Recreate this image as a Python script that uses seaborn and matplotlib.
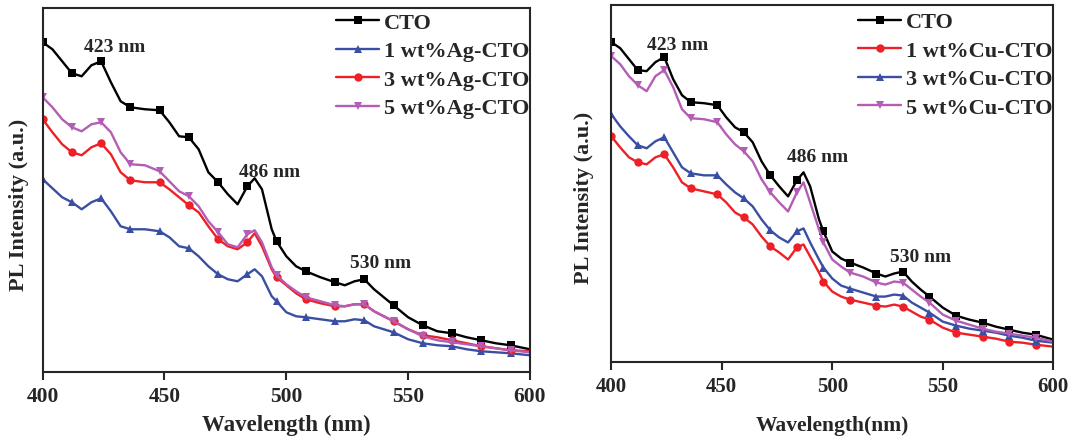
import numpy as np
import matplotlib
matplotlib.use("Agg")
import matplotlib.pyplot as plt
import seaborn as sns

# wavelength grid (nm) shared by every spectrum
wl = [400, 404, 408, 412, 416, 420, 424, 428, 432, 436, 442, 448, 452, 456, 460,
      464, 468, 472, 476, 480, 484, 487, 490, 494, 496, 500, 504, 508, 514, 520,
      524, 528, 532, 536, 540, 544, 550, 556, 562, 568, 574, 580, 586, 592, 600]
# symbol positions (every 12 nm)
marker_wl = [400, 412, 424, 436, 448, 460, 472, 484, 496, 508, 520, 532, 544, 556, 568, 580, 592]

# left panel: Ag doped (PL intensity, a.u.)
ag_cto = [330, 323, 311, 299, 296, 307, 311, 290, 271, 265, 263, 262, 250, 236, 235,
          223, 200, 190, 178, 168, 186, 194, 183, 143, 131, 116, 106, 101, 95, 90,
          87, 91, 93, 83, 75, 67, 55, 47, 41, 39, 35, 32, 29, 27, 23]
ag_1 = [193, 184, 175, 170, 163, 170, 174, 161, 146, 143, 143, 141, 135, 126, 124,
        116, 106, 98, 93, 91, 98, 103, 96, 76, 71, 60, 56, 55, 53, 51,
        51, 53, 52, 46, 43, 40, 33, 29, 27, 26, 23, 21, 20, 19, 17]
ag_3 = [253, 240, 228, 220, 217, 225, 229, 218, 200, 192, 190, 190, 183, 175, 167,
        160, 146, 133, 126, 123, 130, 139, 126, 103, 95, 87, 79, 73, 69, 66,
        66, 68, 68, 61, 56, 51, 43, 37, 35, 32, 29, 26, 24, 22, 21]
ag_5 = [275, 265, 253, 245, 241, 248, 250, 240, 220, 208, 207, 201, 191, 181, 176,
        166, 151, 140, 128, 125, 138, 142, 130, 105, 97, 88, 81, 75, 71, 67,
        66, 68, 68, 61, 56, 51, 43, 36, 32, 30, 28, 26, 24, 22, 20]

# right panel: Cu doped (PL intensity, a.u.)
cu_cto = [319, 313, 302, 291, 290, 299, 304, 282, 266, 259, 258, 256, 244, 234, 229,
          219, 200, 186, 175, 165, 181, 189, 175, 142, 130, 110, 103, 99, 94, 88,
          85, 88, 90, 80, 72, 65, 54, 46, 42, 39, 35, 32, 29, 27, 22]
cu_1 = [225, 214, 204, 199, 197, 204, 207, 194, 179, 173, 170, 167, 159, 149, 144,
        137, 125, 115, 109, 102, 114, 117, 105, 89, 80, 70, 65, 62, 59, 56,
        55, 57, 55, 50, 45, 42, 34, 29, 27, 25, 23, 20, 19, 17, 15]
cu_3 = [247, 235, 225, 216, 213, 220, 224, 209, 194, 188, 186, 186, 177, 169, 163,
        155, 142, 131, 124, 119, 130, 133, 119, 102, 94, 83, 76, 73, 69, 65,
        65, 67, 66, 59, 54, 49, 40, 36, 33, 31, 29, 26, 24, 21, 19]
cu_5 = [305, 297, 285, 276, 270, 285, 291, 274, 252, 243, 242, 239, 227, 217, 210,
        200, 182, 169, 159, 150, 169, 179, 159, 132, 119, 102, 95, 89, 85, 79,
        77, 80, 79, 72, 65, 59, 47, 41, 37, 33, 30, 28, 26, 24, 20]

ag_labels = ["CTO", "1 wt%Ag-CTO", "3 wt%Ag-CTO", "5 wt%Ag-CTO"]
cu_labels = ["CTO", "1 wt%Cu-CTO", "3 wt%Cu-CTO", "5 wt%Cu-CTO"]
peak_labels = ["423 nm", "486 nm", "530 nm"]

BLACK, BLUE, RED, PURPLE = "#000000", "#3A4FA3", "#EE2027", "#B45DB4"

sns.set_style("ticks")
plt.rcParams["font.family"] = ["Liberation Serif", "DejaVu Serif"]
plt.rcParams["font.weight"] = "bold"
plt.rcParams["axes.labelweight"] = "bold"

fig = plt.figure(figsize=(10.72, 4.39), dpi=100)
ax1 = fig.add_axes([0.0398, 0.1497, 0.4546, 0.8292])
ax2 = fig.add_axes([0.5702, 0.1738, 0.4123, 0.8125])

every = list(np.flatnonzero(np.isin(wl, marker_wl)))


def draw(ax, series, labels, colors, markers, ymax, fs):
    for y, lab, c, m in zip(series, labels, colors, markers):
        sns.lineplot(x=wl, y=y, ax=ax, color=c, marker=m, markevery=every,
                     markersize=6, markeredgewidth=0, linewidth=1.7,
                     label=lab, sort=False, estimator=None, clip_on=True)
    ax.set_xlim(400, 600)
    ax.set_ylim(0, ymax)
    ax.set_xticks([400, 450, 500, 550, 600])
    ax.set_yticks([])
    for s in ax.spines.values():
        s.set_linewidth(1.5)
        s.set_visible(True)
    ax.tick_params(axis="x", direction="out", length=6, width=1.5,
                   labelsize=fs, pad=4)
    for t in ax.get_xticklabels():
        t.set_fontweight("bold")


draw(ax1, [ag_cto, ag_1, ag_3, ag_5], ag_labels, [BLACK, BLUE, RED, PURPLE],
     ["s", "^", "o", "v"], 364, 15.5)
draw(ax2, [cu_cto, cu_1, cu_3, cu_5], cu_labels, [BLACK, RED, BLUE, PURPLE],
     ["s", "o", "^", "v"], 356, 15)

# axis labels
ax1.set_xlabel("Wavelength (nm)", fontsize=16.5, fontweight="bold")
ax1.set_ylabel("PL Intensity (a.u.)", fontsize=16, fontweight="bold")
ax1.xaxis.set_label_coords(0.5, -0.115)
ax1.yaxis.set_label_coords(-0.028, 0.464)
ax2.set_xlabel("Wavelength(nm)", fontsize=15.5, fontweight="bold")
ax2.set_ylabel("PL Intensity (a.u.)", fontsize=16, fontweight="bold")
ax2.xaxis.set_label_coords(0.5, -0.149)
ax2.yaxis.set_label_coords(-0.039, 0.463)

# peak annotations
for ax, pos in [(ax1, [(429.7, 326), (493.3, 201), (538.8, 110)]),
                (ax2, [(430.2, 317), (493.5, 205), (540.1, 105)])]:
    for (x, y), txt in zip(pos, peak_labels):
        ax.text(x, y, txt, ha="center", va="center", fontsize=14,
                fontweight="bold")

# legends
for ax, anchor in [(ax1, (0.602, 0.989)), (ax2, (0.558, 0.981))]:
    ax.legend(loc="upper left", bbox_to_anchor=anchor, frameon=False,
              handlelength=1.95, handletextpad=0.2,
              labelspacing=0.36, borderpad=0, borderaxespad=0,
              prop={"weight": "bold", "size": 16})

fig.savefig("out.png", dpi=100)
